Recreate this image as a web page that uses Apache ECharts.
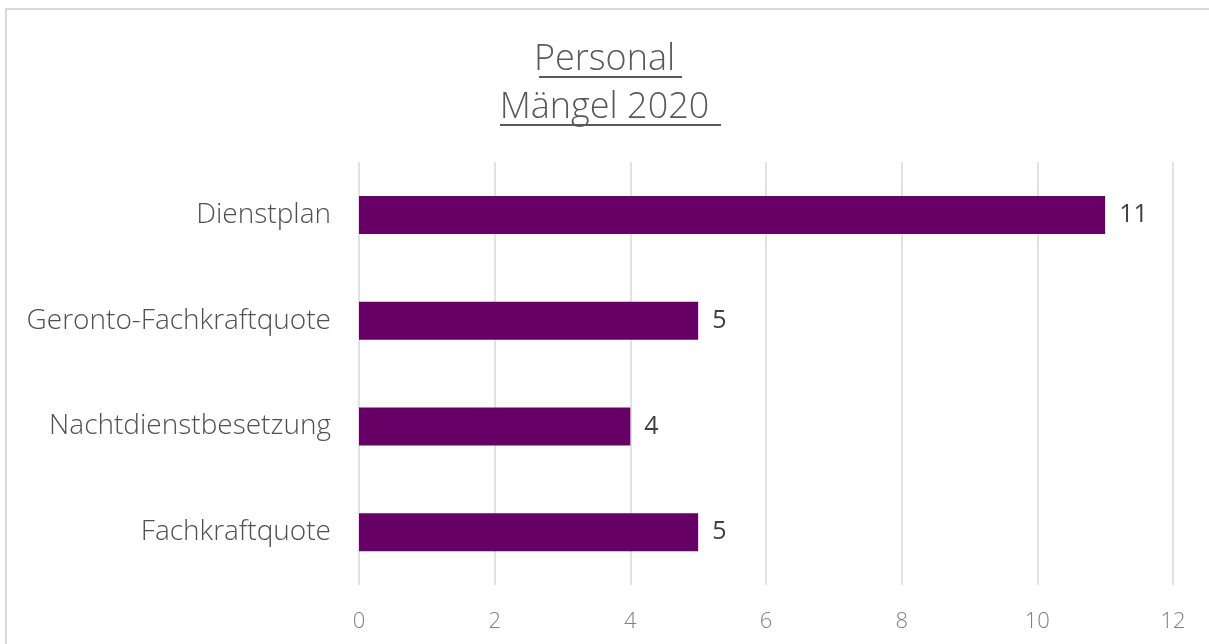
<!DOCTYPE html>
<html>
<head>
<meta charset="UTF-8">
<title>Personal Mängel 2020</title>
<script src="https://cdn.jsdelivr.net/npm/echarts@6/dist/echarts.min.js"></script>
<style>
  html, body { margin: 0; padding: 0; background: #fff; }
  #main { width: 1209px; height: 644px; }
</style>
</head>
<body>
<div id="main"></div>
<script>
// Daten
var kategorien = ['Fachkraftquote', 'Nachtdienstbesetzung', 'Geronto-Fachkraftquote', 'Dienstplan'];
var maengel = [5, 4, 5, 11];
var titelZeilen = ['Personal', 'Mängel 2020'];

var font = '"Open Sans", "Noto Sans", sans-serif';
var myChart = echarts.init(document.getElementById('main'));

var option = {
  backgroundColor: '#fff',
  title: {
    text: titelZeilen.join('\n'),
    left: 'center',
    top: 31,
    textStyle: {
      fontFamily: font,
      fontWeight: 300,
      fontSize: 36,
      color: '#595959',
      lineHeight: 48
    }
  },
  graphic: [
    { type: 'rect', shape: { x: 6, y: 9, width: 1230, height: 680 },
      style: { fill: 'none', stroke: '#d9d9d9', lineWidth: 2 }, silent: true },
    { type: 'line', shape: { x1: 539, y1: 77, x2: 682, y2: 77 },
      style: { stroke: '#595959', lineWidth: 2 } },
    { type: 'line', shape: { x1: 500, y1: 125, x2: 721, y2: 125 },
      style: { stroke: '#595959', lineWidth: 2 } }
  ],
  grid: { left: 359, right: 36, top: 162, bottom: 59 },
  xAxis: {
    type: 'value',
    min: 0,
    max: 12,
    interval: 2,
    axisLine: { show: false },
    axisTick: { show: false },
    splitLine: { lineStyle: { color: '#d9d9d9', width: 1.5 } },
    axisLabel: { fontFamily: font, fontWeight: 300, fontSize: 22, color: '#808080', margin: 26 }
  },
  yAxis: {
    type: 'category',
    data: kategorien,
    axisLine: { show: false },
    axisTick: { show: false },
    axisLabel: { fontFamily: font, fontWeight: 300, fontSize: 28, color: '#505050', margin: 28 }
  },
  series: [{
    type: 'bar',
    data: maengel,
    barWidth: 38,
    itemStyle: { color: '#660066' },
    label: {
      show: true,
      position: 'right',
      distance: 14,
      fontFamily: font,
      fontWeight: 400,
      fontSize: 25,
      color: '#404040'
    }
  }]
};

myChart.setOption(option);
</script>
</body>
</html>
